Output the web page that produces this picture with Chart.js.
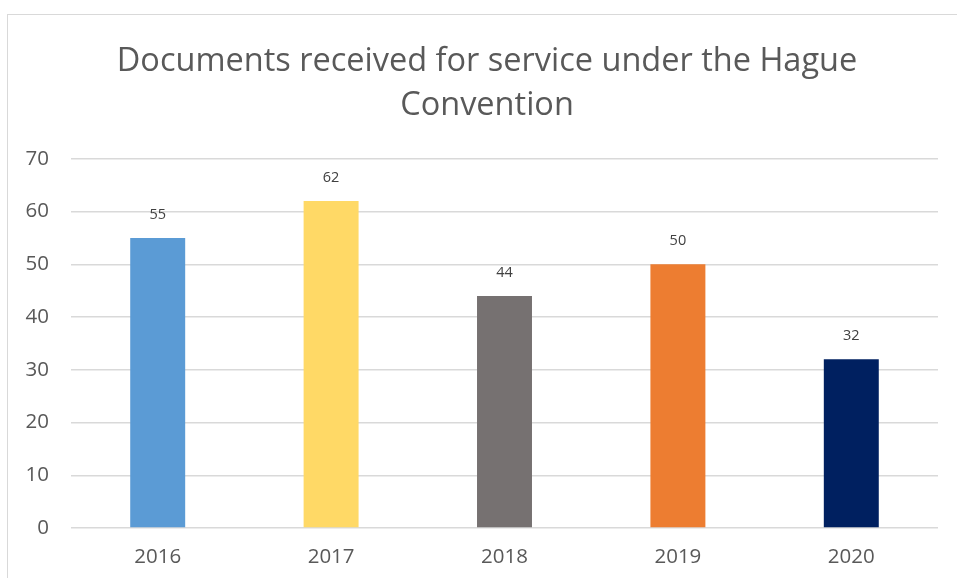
<!DOCTYPE html>
<html>
<head>
<meta charset="utf-8">
<script src="https://cdn.jsdelivr.net/npm/chart.js@4"></script>
<style>
    html, body { margin: 0; padding: 0; background: #fff; overflow: hidden; }
    .frame {
        position: absolute;
        left: 7px;
        top: 14px;
        width: 958px;
        height: 578px;
        border: 1px solid #d9d9d9;
        background: #fff;
    }
</style>
</head>
<body>
<div class="frame"><canvas id="hagueChart" width="958" height="578"></canvas></div>
<script>
// 연도별 접수 건수
const years = ['2016', '2017', '2018', '2019', '2020'];
const documents = [55, 62, 44, 50, 32];
const barColors = ['#5B9BD5', '#FFD966', '#767171', '#ED7D31', '#002060'];
const yTicks = [0, 10, 20, 30, 40, 50, 60, 70];

const textFont = "'Open Sans', 'Liberation Sans', sans-serif";

// 막대 위에 값 표시
const valueLabels = {
    id: 'valueLabels',
    afterDatasetsDraw(chart) {
        const { ctx } = chart;
        const meta = chart.getDatasetMeta(0);
        ctx.save();
        ctx.font = `14.5px ${textFont}`;
        ctx.fillStyle = '#404040';
        ctx.textAlign = 'center';
        ctx.textBaseline = 'middle';
        meta.data.forEach((bar, i) => {
            ctx.fillText(String(documents[i]), bar.x, bar.y - 23);
        });
        ctx.restore();
    }
};

const ctx = document.getElementById('hagueChart').getContext('2d');
new Chart(ctx, {
    type: 'bar',
    data: {
        labels: years,
        datasets: [{
            data: documents,
            backgroundColor: barColors,
            borderWidth: 0,
            barPercentage: 0.317,
            categoryPercentage: 1
        }]
    },
    options: {
        responsive: false,
        animation: false,
        layout: { padding: { left: 0, right: 0, top: 0, bottom: 15 } },
        scales: {
            y: {
                min: 0,
                max: 70,
                afterBuildTicks: scale => { scale.ticks = yTicks.map(v => ({ value: v })); },
                afterFit: scale => { scale.width = 63; },
                border: { display: false },
                grid: { color: '#d9d9d9', lineWidth: 1.5, drawTicks: false },
                ticks: {
                    padding: 22,
                    color: '#595959',
                    font: { family: textFont, size: 20.5 }
                }
            },
            // 오른쪽 여백용 빈 축 (제목은 캔버스 전체 기준 가운데 정렬)
            yRight: {
                position: 'right',
                min: 0,
                max: 70,
                afterFit: scale => { scale.width = 28; },
                border: { display: false },
                grid: { display: false, drawTicks: false },
                ticks: { display: false }
            },
            x: {
                afterFit: scale => { scale.height = 50; },
                border: { display: false },
                grid: { display: false, drawTicks: false },
                ticks: {
                    padding: 17,
                    color: '#595959',
                    font: { family: textFont, size: 20.5 }
                }
            }
        },
        plugins: {
            legend: { display: false },
            tooltip: { enabled: false },
            title: {
                display: true,
                text: ['Documents received for service under the Hague', 'Convention'],
                color: '#595959',
                font: { family: textFont, size: 32.5, weight: 'normal', lineHeight: 1.35 },
                padding: { top: 25, bottom: 31 }
            }
        }
    },
    plugins: [valueLabels]
});
</script>
</body>
</html>
